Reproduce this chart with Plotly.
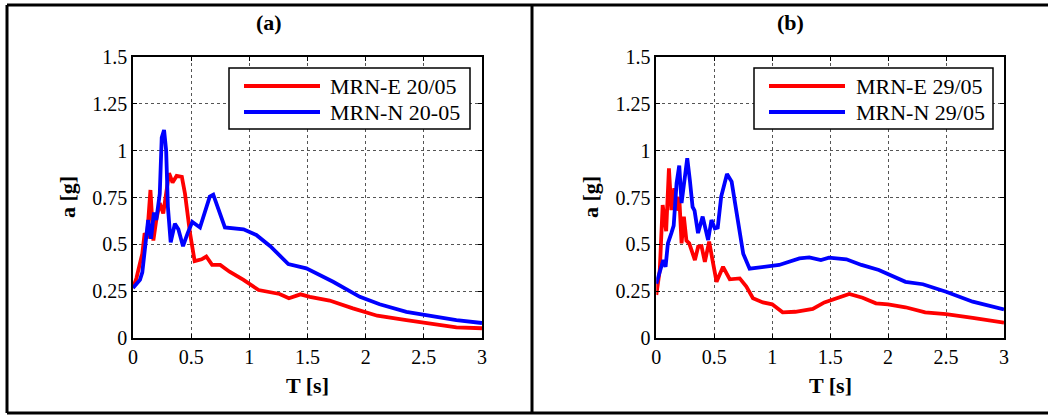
import plotly.graph_objects as go

# ---------------- data ----------------
# Panel (a)
T_a_E = [0, 0.03, 0.06, 0.08, 0.10, 0.12, 0.15, 0.175, 0.2, 0.23, 0.26, 0.284, 0.31, 0.34, 0.375,
         0.42, 0.447, 0.49, 0.53, 0.59, 0.63, 0.68, 0.75, 0.83, 0.95, 1.08, 1.18, 1.26, 1.34, 1.44,
         1.52, 1.69, 1.89, 2.10, 2.35, 2.55, 2.78, 3.0]
A_a_E = [0.267, 0.32, 0.40, 0.45, 0.56, 0.53, 0.79, 0.52, 0.63, 0.72, 0.665, 0.755, 0.88, 0.83, 0.865,
         0.86, 0.77, 0.56, 0.41, 0.42, 0.435, 0.39, 0.39, 0.354, 0.31, 0.256, 0.247, 0.235, 0.212, 0.233,
         0.22, 0.2, 0.158, 0.119, 0.096, 0.078, 0.057, 0.052]

T_a_N = [0, 0.06, 0.08, 0.13, 0.155, 0.18, 0.2, 0.23, 0.247, 0.267, 0.285, 0.30, 0.324, 0.36, 0.39,
         0.43, 0.47, 0.51, 0.576, 0.66, 0.69, 0.74, 0.79, 0.95, 1.06, 1.18, 1.26, 1.335, 1.49, 1.72,
         1.95, 2.12, 2.35, 2.55, 2.78, 3.0]
A_a_N = [0.267, 0.31, 0.35, 0.63, 0.53, 0.67, 0.63, 0.77, 1.07, 1.11, 1.0, 0.70, 0.51, 0.61, 0.58,
         0.49, 0.56, 0.62, 0.59, 0.755, 0.765, 0.68, 0.59, 0.58, 0.55, 0.49, 0.443, 0.395, 0.372, 0.30,
         0.22, 0.18, 0.14, 0.119, 0.096, 0.08]

# Panel (b)
T_b_E = [0, 0.03, 0.055, 0.075, 0.085, 0.109, 0.13, 0.155, 0.18, 0.198, 0.218, 0.238, 0.26, 0.284,
         0.30, 0.333, 0.361, 0.39, 0.419, 0.456, 0.485, 0.52, 0.576, 0.634, 0.72, 0.777, 0.834, 0.92,
         1.0, 1.09, 1.2, 1.35, 1.45, 1.58, 1.665, 1.78, 1.895, 2.0, 2.15, 2.32, 2.5, 2.73, 3.0]
A_b_E = [0.23, 0.363, 0.71, 0.594, 0.57, 0.906, 0.683, 0.80, 0.68, 0.754, 0.505, 0.648, 0.52, 0.505,
         0.47, 0.416, 0.487, 0.49, 0.407, 0.514, 0.416, 0.30, 0.38, 0.313, 0.318, 0.274, 0.212, 0.19,
         0.18, 0.137, 0.14, 0.155, 0.19, 0.22, 0.235, 0.215, 0.185, 0.18, 0.164, 0.137, 0.128, 0.108, 0.082]

T_b_N = [0, 0.06, 0.08, 0.10, 0.13, 0.15, 0.175, 0.198, 0.218, 0.235, 0.267, 0.29, 0.313, 0.33, 0.36,
         0.40, 0.42, 0.447, 0.476, 0.505, 0.53, 0.56, 0.61, 0.65, 0.69, 0.75, 0.805, 0.92, 1.06, 1.235,
         1.32, 1.42, 1.49, 1.64, 1.77, 1.92, 2.0, 2.15, 2.30, 2.50, 2.73, 3.0]
A_b_N = [0.29, 0.416, 0.38, 0.505, 0.56, 0.60, 0.826, 0.92, 0.72, 0.82, 0.96, 0.84, 0.70, 0.68, 0.56,
         0.648, 0.59, 0.523, 0.63, 0.585, 0.59, 0.755, 0.875, 0.835, 0.68, 0.45, 0.37, 0.38, 0.39, 0.425,
         0.43, 0.416, 0.429, 0.42, 0.39, 0.363, 0.34, 0.30, 0.287, 0.247, 0.194, 0.152]

legend_a = ["MRN-E 20/05", "MRN-N 20-05"]
legend_b = ["MRN-E 29/05", "MRN-N 29/05"]
panel_titles = ["(a)", "(b)"]
x_ticks = [0, 0.5, 1, 1.5, 2, 2.5, 3]
y_ticks = [0, 0.25, 0.5, 0.75, 1, 1.25, 1.5]

# ---------------- figure ----------------
W, H = 1048, 417
RED, BLUE = "#ff0000", "#0000ff"
FONT = "Liberation Serif"
LW = 3.8

def px(x):
    return x / W

def py(y):
    return 1 - y / H

fig = go.Figure()
fig.add_trace(go.Scatter(x=T_a_E, y=A_a_E, mode="lines", line=dict(color=RED, width=LW),
                         xaxis="x", yaxis="y", showlegend=False, name=legend_a[0]))
fig.add_trace(go.Scatter(x=T_a_N, y=A_a_N, mode="lines", line=dict(color=BLUE, width=LW),
                         xaxis="x", yaxis="y", showlegend=False, name=legend_a[1]))
fig.add_trace(go.Scatter(x=T_b_E, y=A_b_E, mode="lines", line=dict(color=RED, width=LW),
                         xaxis="x2", yaxis="y2", showlegend=False, name=legend_b[0]))
fig.add_trace(go.Scatter(x=T_b_N, y=A_b_N, mode="lines", line=dict(color=BLUE, width=LW),
                         xaxis="x2", yaxis="y2", showlegend=False, name=legend_b[1]))

ax_common = dict(showline=True, linecolor="black", linewidth=1.5, mirror="ticks",
                 ticks="inside", ticklen=4, tickcolor="black", automargin=False,
                 showgrid=True, gridcolor="#555555", griddash="dot", gridwidth=1,
                 zeroline=False, tickfont=dict(family=FONT, size=20, color="black"))

ydom = [py(338), py(57)]
fig.update_layout(
    template="none",
    width=W, height=H, margin=dict(l=0, r=0, t=0, b=0, pad=0, autoexpand=False),
    paper_bgcolor="white", plot_bgcolor="white",
    font=dict(family=FONT, color="black"),
    xaxis=dict(domain=[px(133), px(482)], range=[0, 3], tickvals=x_ticks, anchor="y", **ax_common),
    yaxis=dict(domain=ydom, range=[0, 1.5], tickvals=y_ticks, anchor="x", **ax_common),
    xaxis2=dict(domain=[px(656.3), px(1004)], range=[0, 3], tickvals=x_ticks, anchor="y2", **ax_common),
    yaxis2=dict(domain=ydom, range=[0, 1.5], tickvals=y_ticks, anchor="x2", **ax_common),
)

shapes = []
annotations = []
# outer frame
frame = dict(type="line", xref="paper", yref="paper", line=dict(color="black", width=3))
shapes.append(dict(frame, x0=px(7), x1=1, y0=py(5), y1=py(5)))
shapes.append(dict(frame, x0=px(7), x1=1, y0=py(413), y1=py(413)))
shapes.append(dict(frame, x0=px(7), x1=px(7), y0=py(5), y1=py(413)))
shapes.append(dict(frame, x0=px(532), x1=px(532), y0=py(5), y1=py(413)))

panels = [
    dict(title_x=269, ylab_x=68, xlab_x=307.5, leg_x0=229, leg_x1=470, line_x0=244, line_x1=320,
         text_x=328, labels=legend_a, title=panel_titles[0]),
    dict(title_x=790, ylab_x=591, xlab_x=830, leg_x0=754, leg_x1=993, line_x0=769, line_x1=845,
         text_x=854, labels=legend_b, title=panel_titles[1]),
]
for p in panels:
    annotations.append(dict(text="<b>%s</b>" % p["title"], x=px(p["title_x"]), y=py(22), xref="paper",
                            yref="paper", showarrow=False, xanchor="center", yanchor="middle",
                            font=dict(family=FONT, size=22, color="black")))
    annotations.append(dict(text="<b>a [g]</b>", x=px(p["ylab_x"]), y=py(197), xref="paper", yref="paper",
                            showarrow=False, xanchor="center", yanchor="middle", textangle=-90,
                            font=dict(family=FONT, size=22, color="black")))
    annotations.append(dict(text="<b>T [s]</b>", x=px(p["xlab_x"]), y=py(385), xref="paper", yref="paper",
                            showarrow=False, xanchor="center", yanchor="middle",
                            font=dict(family=FONT, size=22, color="black")))
    # legend box
    shapes.append(dict(type="rect", xref="paper", yref="paper", x0=px(p["leg_x0"]), x1=px(p["leg_x1"]),
                       y0=py(129), y1=py(68), line=dict(color="black", width=1.5), fillcolor="white",
                       layer="above"))
    for i, (col, yy) in enumerate([(RED, 86), (BLUE, 112)]):
        shapes.append(dict(type="line", xref="paper", yref="paper", x0=px(p["line_x0"]), x1=px(p["line_x1"]),
                           y0=py(yy), y1=py(yy), line=dict(color=col, width=LW), layer="above"))
        annotations.append(dict(text=p["labels"][i], x=px(p["text_x"]), y=py(yy), xref="paper", yref="paper",
                                showarrow=False, xanchor="left", yanchor="middle",
                                font=dict(family=FONT, size=22, color="black")))

fig.update_layout(shapes=shapes, annotations=annotations)
fig.write_html(
    "out.html",
    config={"displayModeBar": False},
    post_script="document.body.style.margin='0';document.body.style.padding='0';"
                "document.documentElement.style.overflow='hidden';",
)
